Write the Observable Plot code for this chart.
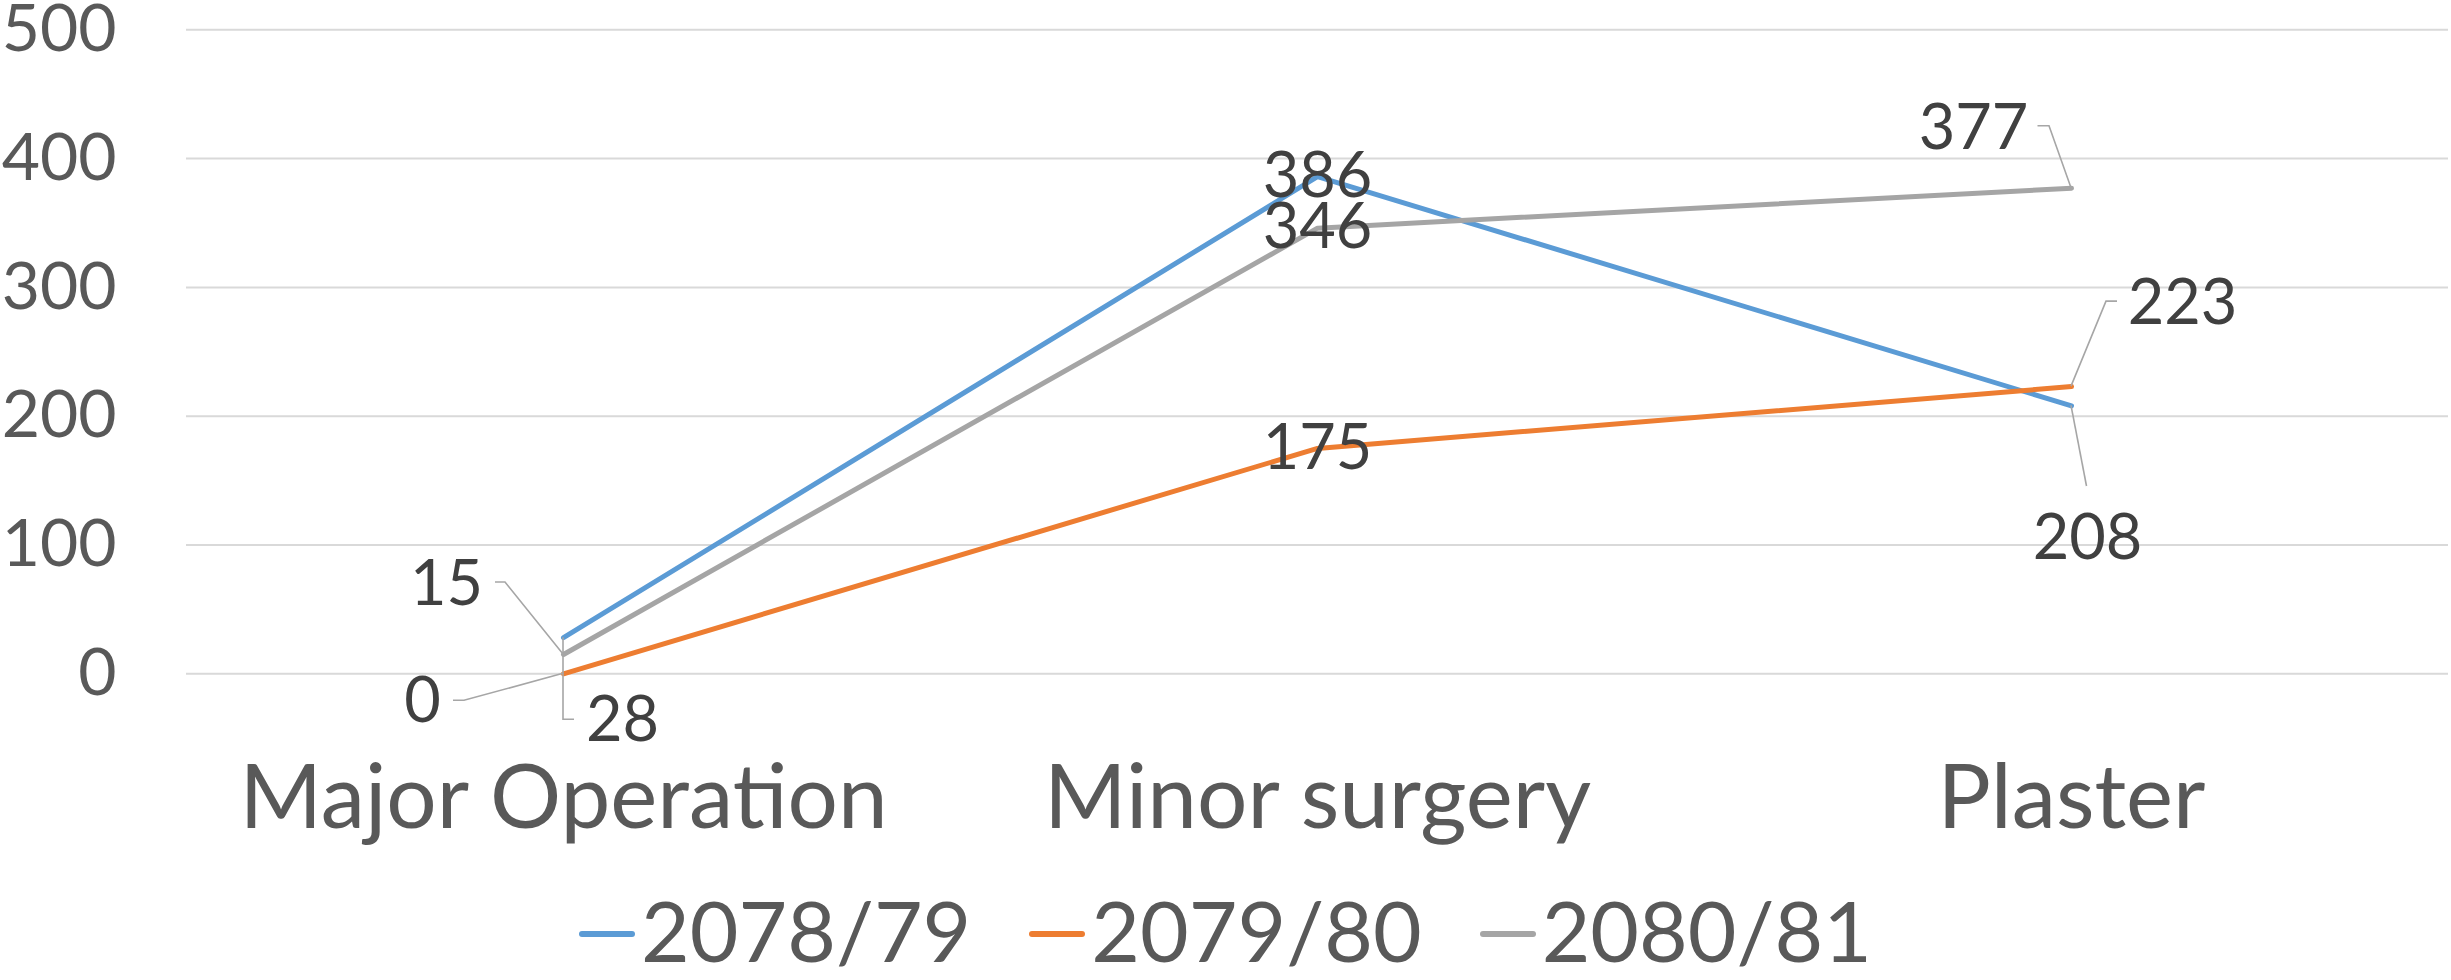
<!DOCTYPE html>
<html>
<head>
<meta charset="utf-8">
<script src="https://cdn.jsdelivr.net/npm/d3@7"></script>
<script src="https://cdn.jsdelivr.net/npm/@observablehq/plot@0.6"></script>
<style>
  html, body { margin: 0; padding: 0; background: #ffffff; }
  #chart { width: 2451px; }
  .legend { display: flex; justify-content: center; align-items: center; gap: 58px;
    font-family: Lato, sans-serif; font-size: 84px; line-height: 100.8px; color: #595959;
    padding-top: 10px; height: 100px; }
  .legend .item { display: flex; align-items: center; }
  .legend .sw { display: inline-block; width: 56px; height: 6px; border-radius: 3px; margin-right: 6px; position: relative; top: 4px; }
</style>
</head>
<body>
<div id="chart"></div>
<script>
// ---- data ----
const categories = ["Major Operation", "Minor surgery", "Plaster"];
const seriesNames = ["2078/79", "2079/80", "2080/81"];
const values2078_79 = [28, 386, 208];
const values2079_80 = [0, 175, 223];
const values2080_81 = [15, 346, 377];
const yTicks = [0, 100, 200, 300, 400, 500];
const seriesColors = ["#5b9bd5", "#ed7d31", "#a5a5a5"];

// ---- label placement (pixel offsets from each point: [dx, dy]) ----
const labelOffsets = {
  "2078/79": [[59, 83], [0, 0], [16, 133]],
  "2079/80": [[-141, 28], [0, 0], [111, -83]],
  "2080/81": [[-117, -70], [0, 0], [-98, -59]]
};
// leader line vertices relative to the point (null = no leader)
const leaderPaths = {
  "2078/79": [[[0, 82], [11, 82]], null, [[15.5, 80.6]]],
  "2079/80": [[[-99, 27], [-110, 27]], null, [[35, -85], [46, -85]]],
  "2080/81": [[[-58, -72], [-68, -72]], null, [[-22, -62], [-33.5, -62]]]
};

const seriesValues = [values2078_79, values2079_80, values2080_81];
const rows = [];
seriesNames.forEach((s, si) => {
  categories.forEach((c, ci) => rows.push({series: s, category: c, value: seriesValues[si][ci], si, ci}));
});

const W = 2451, H = 870;
const labelMarks = rows.map(r => {
  const [dx, dy] = labelOffsets[r.series][r.ci];
  return Plot.text([r], {x: "category", y: "value", text: d => String(d.value),
    dx, dy, fill: "#404040", fontSize: 63, textAnchor: "middle", lineAnchor: "middle"});
});

const chart = Plot.plot({
  width: W,
  height: H,
  marginLeft: 186,
  marginRight: 3,
  marginTop: 29.3,
  marginBottom: H - 673.3,
  style: {fontFamily: "Lato, sans-serif", background: "#ffffff", overflow: "visible"},
  x: {type: "point", domain: categories, padding: 0.5},
  y: {domain: [0, 500]},
  color: {domain: seriesNames, range: seriesColors},
  marks: [
    Plot.gridY(yTicks, {stroke: "#d9d9d9", strokeOpacity: 1, strokeWidth: 2}),
    Plot.axisY(yTicks, {tickSize: 0, tickPadding: 70, fontSize: 66, fill: "#595959", label: null}),
    Plot.axisX({tickSize: 0, tickPadding: 91, fontSize: 89, fill: "#595959", label: null}),
    Plot.line(rows, {x: "category", y: "value", z: "series", stroke: "series", strokeWidth: 5,
      strokeLinecap: "round", strokeLinejoin: "round"}),
    ...labelMarks
  ]
});

// leader lines drawn through the chart's own scales
const xs = chart.scale("x").apply, ys = chart.scale("y").apply;
const g = d3.select(chart).append("g").attr("fill", "none").attr("stroke", "#a6a6a6").attr("stroke-width", 1.6);
rows.forEach(r => {
  const pts = leaderPaths[r.series][r.ci];
  if (!pts) return;
  const px = xs(r.category), py = ys(r.value);
  const coords = [[px, py], ...pts.map(([a, b]) => [px + a, py + b])];
  g.append("path").attr("d", d3.line()(coords));
});

document.getElementById("chart").appendChild(chart);

// legend (HTML, below the SVG)
const legend = document.createElement("div");
legend.className = "legend";
seriesNames.forEach((s, i) => {
  const item = document.createElement("div");
  item.className = "item";
  const sw = document.createElement("span");
  sw.className = "sw";
  sw.style.background = seriesColors[i];
  const t = document.createElement("span");
  t.textContent = s;
  item.appendChild(sw); item.appendChild(t);
  legend.appendChild(item);
});
document.getElementById("chart").appendChild(legend);
</script>
</body>
</html>
